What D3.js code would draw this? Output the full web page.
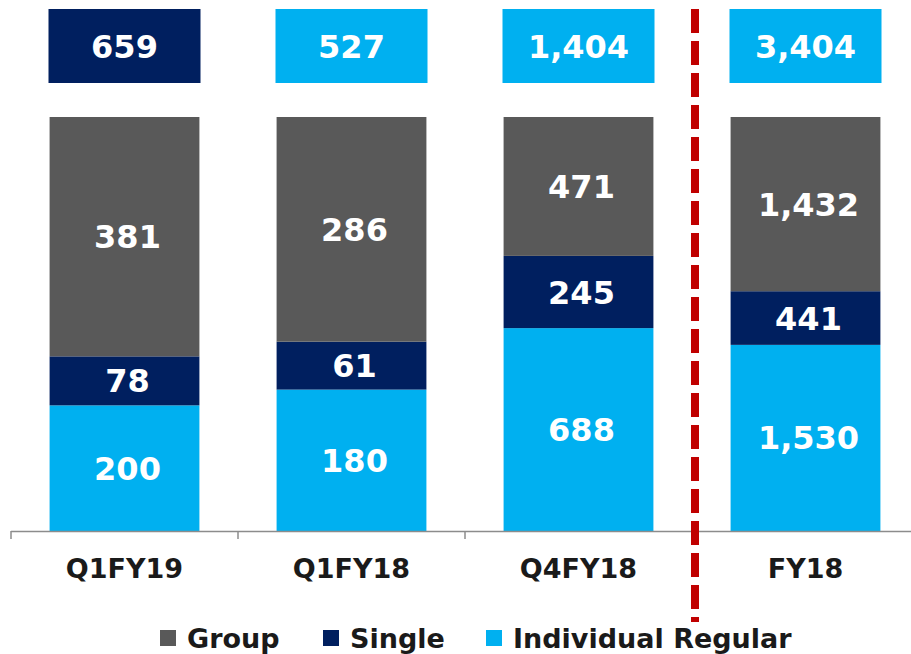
<!DOCTYPE html>
<html>
<head>
<meta charset="utf-8">
<script src="https://cdn.jsdelivr.net/npm/d3@7"></script>
<style>
  body { margin: 0; background: #fff; }
  svg text { font-family: "DejaVu Sans", Verdana, sans-serif; font-weight: bold; }
</style>
</head>
<body>
<div id="chart"></div>
<script>
// chart values
const categories = ['Q1FY19', 'Q1FY18', 'Q4FY18', 'FY18']
const individualRegular = [200, 180, 688, 1530]
const single = [78, 61, 245, 441]
const group = [381, 286, 471, 1432]
const totals = [659, 527, 1404, 3404]
const seriesNames = ['Group', 'Single', 'Individual Regular']

const colors = { 'Individual Regular': '#00B0F0', 'Single': '#001F5F', 'Group': '#595959' }
const width = 911, height = 654

const svg = d3.select('#chart')
    .append('svg')
    .attr('width', width)
    .attr('height', height)

const data = categories.map((c, i) => ({
    cat: c,
    'Individual Regular': individualRegular[i],
    'Single': single[i],
    'Group': group[i],
    total: totals[i]
}))

// x band, y as share of the bar
const x = d3.scaleBand()
    .domain(categories)
    .range([11, 919])
    .paddingInner(0.34)
    .paddingOuter(0.17)

const y = d3.scaleLinear()
    .domain([0, 1])
    .range([531, 117])

const stack = d3.stack()
    .keys(['Individual Regular', 'Single', 'Group'])
    .offset(d3.stackOffsetExpand)
const layers = stack(data)

// the bars
const layerG = svg.selectAll('g.layer')
    .data(layers)
    .join('g')
    .attr('class', 'layer')
    .attr('fill', d => colors[d.key])

layerG.selectAll('rect')
    .data(d => d)
    .join('rect')
    .attr('x', d => x(d.data.cat))
    .attr('y', d => y(d[1]))
    .attr('width', x.bandwidth())
    .attr('height', d => y(d[0]) - y(d[1]))

// value labels in segments
layerG.selectAll('text')
    .data(d => d.map(v => ({ v: v, key: d.key })))
    .join('text')
    .attr('x', d => x(d.v.data.cat) + x.bandwidth() / 2 + 3)
    .attr('y', d => (y(d.v[0]) + y(d.v[1])) / 2)
    .attr('dy', '0.36em')
    .attr('text-anchor', 'middle')
    .attr('fill', '#fff')
    .style('font-size', '32px')
    .text(d => d3.format(',')(d.v.data[d.key]))

// x axis line with ticks at band boundaries
const step = x.step()
svg.append('line')
    .attr('x1', 11).attr('x2', width)
    .attr('y1', 531.5).attr('y2', 531.5)
    .attr('stroke', '#8c8c8c').attr('stroke-width', 1.5)
svg.selectAll('line.tick')
    .data(d3.range(categories.length + 1))
    .join('line')
    .attr('class', 'tick')
    .attr('x1', i => 11 + i * step).attr('x2', i => 11 + i * step)
    .attr('y1', 531).attr('y2', 539)
    .attr('stroke', '#8c8c8c').attr('stroke-width', 1.5)

svg.selectAll('text.cat')
    .data(categories)
    .join('text')
    .attr('class', 'cat')
    .attr('x', d => x(d) + x.bandwidth() / 2)
    .attr('y', 578)
    .attr('text-anchor', 'middle')
    .attr('fill', '#1a1a1a')
    .style('font-size', '27px')
    .text(d => d)

// total boxes on top
const boxW = 152
svg.selectAll('rect.total')
    .data(data)
    .join('rect')
    .attr('class', 'total')
    .attr('x', d => x(d.cat) + x.bandwidth() / 2 - boxW / 2)
    .attr('y', 9)
    .attr('width', boxW)
    .attr('height', 74)
    .attr('fill', (d, i) => i === 0 ? colors['Single'] : colors['Individual Regular'])

svg.selectAll('text.total')
    .data(data)
    .join('text')
    .attr('class', 'total')
    .attr('x', d => x(d.cat) + x.bandwidth() / 2)
    .attr('y', 46)
    .attr('dy', '0.36em')
    .attr('text-anchor', 'middle')
    .attr('fill', '#fff')
    .style('font-size', '32px')
    .text(d => d3.format(',')(d.total))

// red dashed separator between quarters and full year
svg.append('line')
    .attr('x1', 695).attr('x2', 695)
    .attr('y1', 9).attr('y2', 622)
    .attr('stroke', '#C00000')
    .attr('stroke-width', 8)
    .attr('stroke-dasharray', '24,8')

// legend
const legendX = [160, 323, 486]
const legend = svg.selectAll('g.legend')
    .data(seriesNames)
    .join('g')
    .attr('class', 'legend')
    .attr('transform', (d, i) => 'translate(' + legendX[i] + ',0)')
legend.append('rect')
    .attr('x', 0).attr('y', 630)
    .attr('width', 16).attr('height', 16)
    .attr('fill', d => colors[d])
legend.append('text')
    .attr('x', 27).attr('y', 648)
    .attr('fill', '#1a1a1a')
    .style('font-size', '27px')
    .text(d => d)
</script>
</body>
</html>
